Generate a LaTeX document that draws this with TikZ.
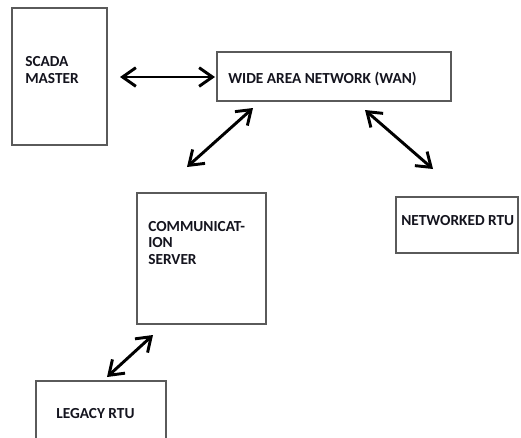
\documentclass[tikz,border=0pt]{standalone}
\usepackage{fontspec}
\setmainfont{Carlito}
\usetikzlibrary{arrows.meta,fit}
\definecolor{boxgray}{HTML}{5A5A5A}
\definecolor{inkdark}{HTML}{14141E}
\begin{document}
\begin{tikzpicture}[x=0.75pt,y=-0.75pt,
  box/.style={draw=boxgray, line width=0.8pt, inner sep=0pt},
  lbl/.style={font=\bfseries\fontsize{11.5}{12.2}\selectfont, text=inkdark,
              inner sep=0pt, anchor=base west, align=left},
  barb/.tip={Straight Barb[length=10pt,width=14pt]},
  link/.style={line width=2.2pt, line cap=round, barb-barb}]
  \useasboundingbox (0,0) rectangle (521,437);
  \fill[white] (0,0) rectangle (521,437);
  \clip (0,0) rectangle (521,437);

  % boxes
  \node[box, fit={(12,8) (107,145)}] (scada) {};
  \node[box, fit={(217,52) (451,101)}] (wan) {};
  \node[box, fit={(137,193) (266,324)}] (comm) {};
  \node[box, fit={(396,197) (518,253)}] (nrtu) {};
  \node[box, fit={(36,381) (166,460)}] (lrtu) {};

  % labels (multi-line labels sit on the baseline of their last line)
  \node[lbl] (scadatxt) at (25,83) {SCADA\\MASTER};
  \node[lbl] (wantxt) at (228,83.5) {WIDE AREA NETWORK (WAN)};
  \node[lbl] (commtxt) at (148,264) {COMMUNICAT-\\ION\\SERVER};
  \node[lbl] (nrtutxt) at (401,225.5) {NETWORKED RTU};
  \node[lbl] (lrtutxt) at (56,418.5) {LEGACY RTU};

  % link end points
  \coordinate (sw) at (120,77);
  \coordinate (ws) at (215,77);
  \coordinate (wc) at (253,108);
  \coordinate (cw) at (187,167);
  \coordinate (wn) at (365,110);
  \coordinate (nw) at (433,169);
  \coordinate (cl) at (153,335);
  \coordinate (lc) at (107,377);

  % links
  \draw[link] (sw) -- (ws);
  \draw[link] (wc) -- (cw);
  \draw[link] (wn) -- (nw);
  \draw[link] (cl) -- (lc);
\end{tikzpicture}
\end{document}
